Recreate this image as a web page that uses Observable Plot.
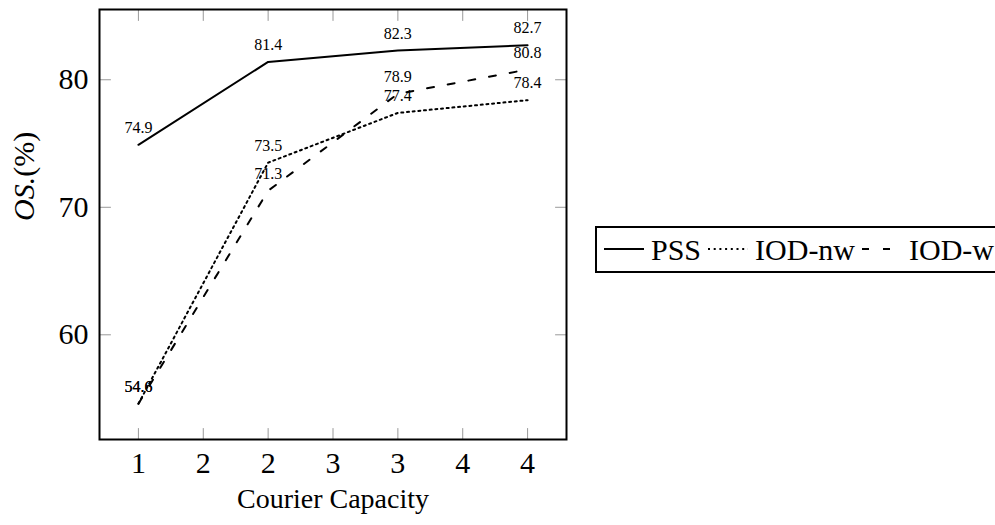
<!DOCTYPE html>
<html><head><meta charset="utf-8">
<script src="https://cdn.jsdelivr.net/npm/d3@7"></script>
<script src="https://cdn.jsdelivr.net/npm/@observablehq/plot@0.6"></script>
<style>
body{margin:0;background:#fff;font-family:"Liberation Serif","Times New Roman",Tinos,serif;}
#wrap{position:relative;width:995px;height:525px;overflow:hidden;}
#wrap svg text{font-family:"Liberation Serif","Times New Roman",Tinos,serif;}
#legend{position:absolute;left:595px;top:226px;height:47px;width:440px;box-sizing:border-box;border:2px solid #000;display:flex;align-items:center;font-size:30px;white-space:nowrap;padding-left:7px;color:#000;}
#legend svg{display:block;}
</style></head><body><div id="wrap"></div>
<script>
// ---- data ----
const capacity = [1, 2, 3, 4];
const pss = [74.9, 81.4, 82.3, 82.7];
const iodNw = [54.6, 73.5, 77.4, 78.4];
const iodW = [54.6, 71.3, 78.9, 80.8];
const seriesNames = ["PSS", "IOD-nw", "IOD-w"];
const xTicks = [1, 1.5, 2, 2.5, 3, 3.5, 4];
const xTickLabels = ["1", "2", "2", "3", "3", "4", "4"];
const yTicks = [60, 70, 80];
const xLabel = "Courier Capacity";
const yLabel = "OS.(%)";

// ---- styles ----
const dashes = [null, "2,3.7", "7,14"];
const serif = '"Liberation Serif","Times New Roman",Tinos,serif';

const seriesValues = [pss, iodNw, iodW];
const series = seriesNames.map((name, k) => ({
  name, dash: dashes[k],
  rows: capacity.map((c, i) => ({x: c, y: seriesValues[k][i], s: name}))
}));
const allRows = series.flatMap(s => s.rows);

const xExt = d3.extent(capacity), yExt = d3.extent(allRows, d => d.y);
const xPad = (xExt[1] - xExt[0]) * 0.1, yPad = (yExt[1] - yExt[0]) * 0.1;

const tickShape = {draw(ctx, l) { ctx.moveTo(0, 0); ctx.lineTo(0, -l); }};
const tickStyle = {length: 11, anchor: "start", shape: tickShape, stroke: "#999", strokeWidth: 1};

const marks = [
  Plot.vector(xTicks, {x: d => d, frameAnchor: "bottom", rotate: 0, ...tickStyle}),
  Plot.vector(xTicks, {x: d => d, frameAnchor: "top", rotate: 180, ...tickStyle}),
  Plot.vector(yTicks, {y: d => d, frameAnchor: "left", rotate: 90, ...tickStyle}),
  Plot.vector(yTicks, {y: d => d, frameAnchor: "right", rotate: -90, ...tickStyle}),
  Plot.axisX(xTicks, {anchor: "bottom", tickSize: 0, tickPadding: 12, fontSize: 30, label: null,
    tickFormat: d => xTickLabels[xTicks.indexOf(d)]}),
  Plot.axisY(yTicks, {anchor: "left", tickSize: 0, tickPadding: 11, fontSize: 30, label: null}),
  ...series.map(s => Plot.line(s.rows, {x: "x", y: "y", stroke: "black", strokeWidth: 2,
    strokeDasharray: s.dash || undefined})),
  ...series.map(s => Plot.text(s.rows, {x: "x", y: "y", text: d => d.y.toFixed(1), dy: -17,
    fontSize: 16, fill: "black"})),
  Plot.frame({stroke: "black", strokeWidth: 2}),
  Plot.text([xLabel], {frameAnchor: "bottom", text: d => d, dy: 68, fontSize: 28, fill: "black"}),
  Plot.text([yLabel], {frameAnchor: "left", text: d => d, rotate: -90, dx: -75, dy: -3.5,
    fontSize: 30, fill: "black"})
];

const chart = Plot.plot({
  width: 995, height: 525,
  marginLeft: 99, marginRight: 429, marginTop: 9, marginBottom: 86,
  style: {fontFamily: serif, background: "white", color: "black"},
  x: {type: "linear", domain: [xExt[0] - xPad, xExt[1] + xPad]},
  y: {type: "linear", domain: [yExt[0] - yPad, yExt[1] + yPad]},
  marks
});

// italic "OS." in the y label
const ns = "http://www.w3.org/2000/svg";
chart.querySelectorAll("text").forEach(t => {
  if (t.textContent === yLabel) {
    t.textContent = "";
    const a = document.createElementNS(ns, "tspan");
    a.setAttribute("font-style", "italic");
    a.textContent = "OS.";
    const b = document.createElementNS(ns, "tspan");
    b.textContent = "(%)";
    t.appendChild(a); t.appendChild(b);
  }
});

const wrap = document.getElementById("wrap");
wrap.appendChild(chart);

// legend
const legend = document.createElement("div");
legend.id = "legend";
series.forEach((s, k) => {
  const sw = d3.create("svg").attr("width", 40).attr("height", 10)
    .style("margin-left", k === 0 ? "0px" : "7px").style("margin-right", "7px");
  sw.append("line").attr("x1", 0).attr("x2", 40).attr("y1", 4).attr("y2", 4)
    .attr("stroke", "black").attr("stroke-width", 2)
    .attr("stroke-dasharray", s.dash);
  legend.appendChild(sw.node());
  const span = document.createElement("span");
  span.textContent = s.name;
  legend.appendChild(span);
});
wrap.appendChild(legend);
</script>
</body></html>
